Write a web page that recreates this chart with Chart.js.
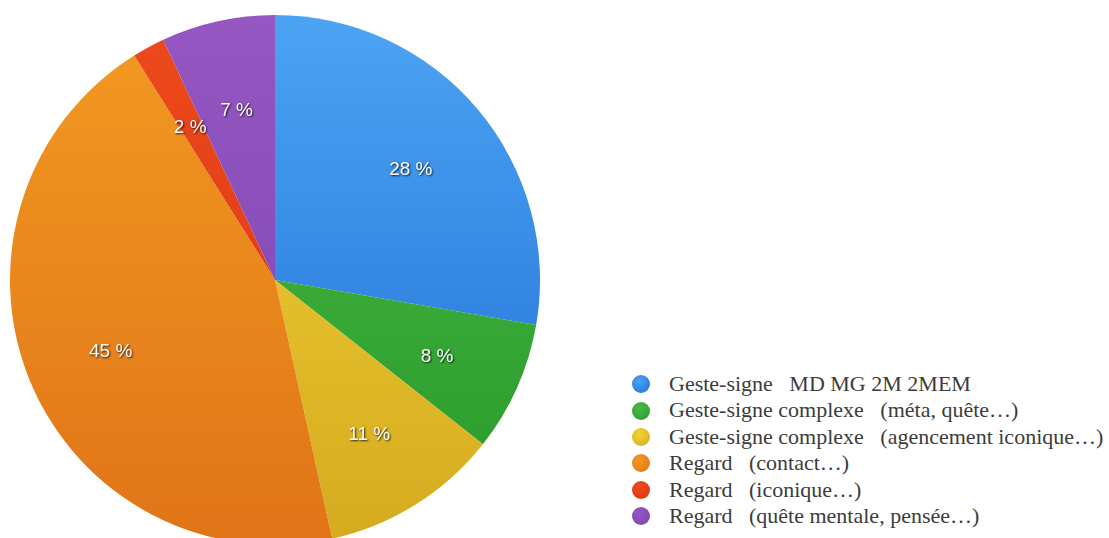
<!DOCTYPE html>
<html>
<head>
<meta charset="utf-8">
<script src="https://cdn.jsdelivr.net/npm/chart.js@4/dist/chart.umd.min.js"></script>
<style>
  html, body { margin: 0; padding: 0; background: #fff; overflow: hidden; width: 1109px; height: 538px; }
  #pie_box { position: absolute; left: 10px; top: 15px; width: 530px; height: 530px; }
  #legend { position: absolute; left: 632px; top: 371px; font-family: "Liberation Serif", "Times New Roman", serif; font-size: 22px; color: #3c3c3c; }
  .row { height: 26.4px; line-height: 26.4px; white-space: pre; display: flex; align-items: center; }
  .dot { width: 18px; height: 18px; border-radius: 50%; margin-right: 19px; flex: none; }
</style>
</head>
<body>
<div id="pie_box"><canvas id="pieChart"></canvas></div>
<div id="legend"></div>
<script>
var categories = [
  "Geste-signe   MD MG 2M 2MEM",
  "Geste-signe complexe   (méta, quête…)",
  "Geste-signe complexe   (agencement iconique…)",
  "Regard   (contact…)",
  "Regard   (iconique…)",
  "Regard   (quête mentale, pensée…)"
];
var percents = [28, 8, 11, 45, 2, 7];

// top / bottom shade of each slice
var top_colors = ["#4da3f3", "#4cb846", "#f2d235", "#f29a22", "#ec4a1c", "#9557c2"];
var bottom_colors = ["#1d6fd5", "#279a2a", "#d5ab20", "#e07418", "#dc3210", "#7a44ae"];

function slice_gradient(context) {
  var chart = context.chart;
  var area = chart.chartArea;
  if (!area) return top_colors[context.dataIndex];
  var grad = chart.ctx.createLinearGradient(0, area.top, 0, area.bottom);
  grad.addColorStop(0, top_colors[context.dataIndex]);
  grad.addColorStop(1, bottom_colors[context.dataIndex]);
  return grad;
}

const sliceLabels = {
  id: "sliceLabels",
  afterDatasetsDraw(chart) {
    const ctx = chart.ctx;
    const meta = chart.getDatasetMeta(0);
    ctx.save();
    ctx.font = "19px 'Liberation Sans', Arial, sans-serif";
    ctx.textAlign = "center";
    ctx.textBaseline = "middle";
    ctx.fillStyle = "#ffffff";
    ctx.shadowColor = "rgba(0,0,0,0.8)";
    ctx.shadowBlur = 2;
    ctx.shadowOffsetX = 1;
    ctx.shadowOffsetY = 1;
    meta.data.forEach((arc, i) => {
      const p = arc.getProps(["x", "y", "startAngle", "endAngle", "outerRadius"], true);
      const mid = (p.startAngle + p.endAngle) / 2;
      const r = p.outerRadius * 0.67;
      ctx.fillText(percents[i] + " %", p.x + Math.cos(mid) * r, p.y + Math.sin(mid) * r + 4);
    });
    ctx.restore();
  }
};

function build_legend() {
  var box = document.getElementById("legend");
  categories.forEach((name, i) => {
    var row = document.createElement("div");
    row.className = "row";
    var dot = document.createElement("span");
    dot.className = "dot";
    dot.style.background = "radial-gradient(circle at 40% 35%, " + top_colors[i] + ", " + bottom_colors[i] + ")";
    var txt = document.createElement("span");
    txt.textContent = name;
    row.appendChild(dot);
    row.appendChild(txt);
    box.appendChild(row);
  });
}

var pieChart = new Chart(document.getElementById("pieChart").getContext("2d"), {
  type: "pie",
  data: {
    labels: categories,
    datasets: [{
      data: percents,
      backgroundColor: slice_gradient,
      borderWidth: 0
    }]
  },
  options: {
    responsive: true,
    maintainAspectRatio: false,
    animation: false,
    layout: { padding: 0 },
    plugins: {
      legend: { display: false },
      tooltip: { enabled: false }
    }
  },
  plugins: [sliceLabels]
});

build_legend();
</script>
</body>
</html>
